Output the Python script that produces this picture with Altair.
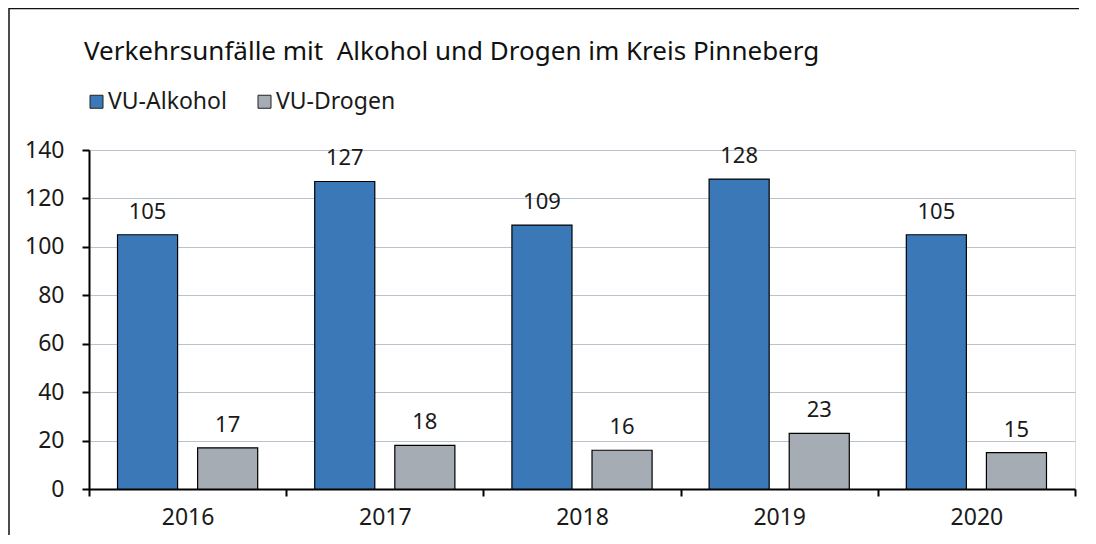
import altair as alt
import pandas as pd

years = ["2016", "2017", "2018", "2019", "2020"]
alkohol = [105, 127, 109, 128, 105]
drogen = [17, 18, 16, 23, 15]
series = ["VU-Alkohol", "VU-Drogen"]
colors = ["#3b78b8", "#a5acb4"]
title_text = "Verkehrsunfälle mit \u00a0Alkohol und Drogen im Kreis Pinneberg"

rows = []
for i, y in enumerate(years):
    rows.append({"Jahr": y, "Serie": series[0], "Wert": alkohol[i]})
    rows.append({"Jahr": y, "Serie": series[1], "Wert": drogen[i]})
df = pd.DataFrame(rows)

FONT = "Noto Sans"
W, H = 986, 339

x_enc = alt.X("Jahr:N", sort=years, title=None,
              scale=alt.Scale(paddingInner=0, paddingOuter=0),
              axis=alt.Axis(labelAngle=0, tickBand="extent", domainColor="black",
                            domainWidth=2, tickColor="black", tickWidth=2, tickSize=7,
                            labelFontSize=23, labelColor="#1a1a1a", labelFont=FONT,
                            labelPadding=10, grid=False))
xo_enc = alt.XOffset("Serie:N", sort=series,
                     scale=alt.Scale(paddingInner=0.25, paddingOuter=0.356))
y_scale = alt.Scale(domain=[0, 140], nice=False)

base = alt.Chart(df)

bars = base.mark_bar(stroke="black", strokeWidth=1.2).encode(
    x=x_enc,
    xOffset=xo_enc,
    y=alt.Y("Wert:Q", scale=y_scale, title=None,
            axis=alt.Axis(values=list(range(0, 141, 20)), domainColor="black",
                          domainWidth=2, tickColor="black", tickWidth=2, tickSize=7,
                          labelFontSize=23, labelColor="#1a1a1a", labelFont=FONT,
                          labelPadding=18, gridColor="#b9c2cf", gridWidth=1.2)),
    color=alt.Color("Serie:N", sort=series,
                    scale=alt.Scale(domain=series, range=colors),
                    legend=alt.Legend(title=None, orient="none", legendX=-4, legendY=-60,
                                      direction="horizontal", symbolType="square",
                                      symbolSize=169, symbolStrokeColor="#222",
                                      symbolStrokeWidth=1, labelFontSize=23,
                                      labelFont=FONT, labelColor="#1a1a1a",
                                      labelOffset=0, columnPadding=26)),
)

labels = base.mark_text(baseline="alphabetic", dy=-16, fontSize=22, font=FONT,
                        color="#1a1a1a").encode(
    x=alt.X("Jahr:N", sort=years),
    xOffset=alt.XOffset("Serie:N", sort=series),
    y=alt.Y("Wert:Q", scale=y_scale),
    text=alt.Text("Wert:Q"),
)

title_df = pd.DataFrame({"t": [title_text]})
title_mark = alt.Chart(title_df).mark_text(
    align="left", baseline="alphabetic", fontSize=26, font=FONT, color="#111"
).encode(x=alt.value(-5), y=alt.value(-90), text="t:N")

edge = pd.DataFrame({"a": [0]})
border = alt.Chart(edge).mark_rect(fill="transparent", stroke="#111", strokeWidth=1.5,
                                   strokeDash=[1070, 1607.5, 545, 5]).encode(
    x=alt.value(-80), x2=alt.value(990), y=alt.value(-141.5), y2=alt.value(396))

chart = alt.layer(bars, labels, title_mark, border).properties(
    width=W, height=H,
    autosize=alt.AutoSizeParams(type="none"),
    padding={"left": 81, "top": 142, "right": 13, "bottom": 46},
).configure_view(stroke=None).configure(background="white")

chart.save("out.html", embed_options={"renderer": "svg", "actions": False})
